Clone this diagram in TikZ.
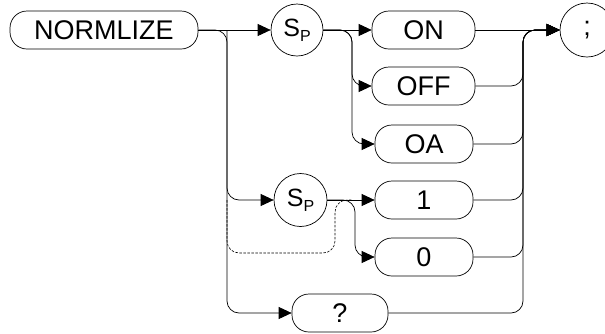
\documentclass[tikz,border=0pt]{standalone}
\usepackage{fontspec}
\setmainfont{Liberation Sans}
\usetikzlibrary{arrows.meta}
\tikzset{
  pill/.style={draw, line width=0.7pt, rounded corners=17pt, minimum height=38pt, inner sep=0pt, font=\fontsize{27}{27}\selectfont},
  circ/.style={draw, line width=0.7pt, circle, inner sep=0pt, font=\fontsize{27}{27}\selectfont},
  conn/.style={line width=0.7pt, rounded corners=12pt},
  arr/.style={conn, -{Triangle[length=13pt,width=12pt]}},
  dsh/.style={line width=0.6pt, rounded corners=12pt, dash pattern=on 2.5pt off 1.5pt}
}
\newcommand{\spsym}{{\fontsize{25}{25}\selectfont S}\raisebox{-5pt}{\fontsize{16}{16}\selectfont P}}
\begin{document}
\begin{tikzpicture}[x=1pt,y=-1pt]
\useasboundingbox (0,0) rectangle (605,333);
\node[pill, minimum width=188pt] (norm) at (104,30) {NORMLIZE};
\node[circ, minimum size=52pt] (sp1) at (297,30) {\spsym};
\node[pill, minimum width=103pt] (on) at (423.5,30) {ON};
\node[pill, minimum width=103pt] (off) at (423.5,86) {OFF};
\node[pill, minimum width=98pt] (oa) at (424,144) {OA};
\node[circ, minimum size=53pt] (sp2) at (300.5,200) {\spsym};
\node[pill, minimum width=98pt] (one) at (424,200) {1};
\node[pill, minimum width=98pt] (zero) at (424,257) {0};
\node[pill, minimum width=96pt] (q) at (340,313) {?};
\node[circ, minimum size=54pt] (semi) at (587,30) {;};
% junction coordinates
\coordinate (jLtop) at (227,30);
\coordinate (jLsp) at (227,200);
\coordinate (jLbot) at (227,313);
\coordinate (jLdash) at (227,253);
\coordinate (jA) at (352,30);
\coordinate (jB) at (355,200);
\coordinate (jDa) at (335,253);
\coordinate (jDb) at (335,200);
\coordinate (jDc) at (352,200);
\coordinate (jR) at (523,30);
% left side
\draw[arr] (norm.east) -- (sp1.west);
\draw[arr] (norm.east) -- (jLtop) -- (jLbot) -- (q.west);
\draw[arr] (jLtop) -- (jLsp) -- (sp2.west);
\draw[dsh] (jLsp) -- (jLdash) -- (jDa) -- (jDb) -- (jDc);
% Sp1 branches
\draw[arr] (sp1.east) -- (on.west);
\draw[arr] (sp1.east) -- (jA) -- (jA |- off.west) -- (off.west);
\draw[arr] (sp1.east) -- (jA) -- (jA |- oa.west) -- (oa.west);
% Sp2 branches
\draw[arr] (sp2.east) -- (one.west);
\draw[arr] (sp2.east) -- (jB) -- (jB |- zero.west) -- (zero.west);
% right side
\draw[arr] (on.east) -- (semi.west);
\draw[arr] (off.east) -- (jR |- off.east) -- (jR) -- (semi.west);
\draw[arr] (oa.east) -- (jR |- oa.east) -- (jR) -- (semi.west);
\draw[arr] (one.east) -- (jR |- one.east) -- (jR) -- (semi.west);
\draw[arr] (zero.east) -- (jR |- zero.east) -- (jR) -- (semi.west);
\draw[arr] (q.east) -- (jR |- q.east) -- (jR) -- (semi.west);
\end{tikzpicture}
\end{document}
